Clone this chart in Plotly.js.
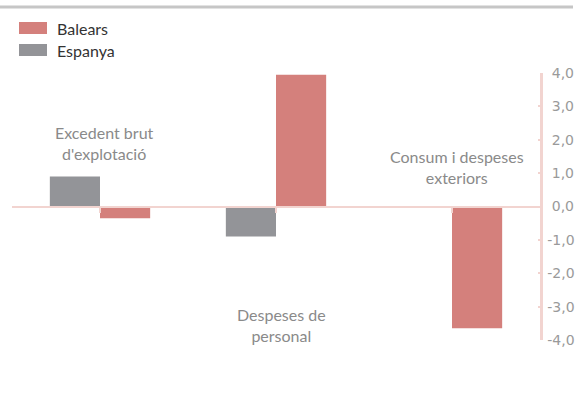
<!DOCTYPE html>
<html>
<head>
<meta charset="utf-8">
<script src="https://cdn.plot.ly/plotly-3.0.1.min.js"></script>
<style>
  html, body { margin: 0; padding: 0; background: #fff; }
  #chart { width: 580px; height: 394px; }
</style>
</head>
<body>
<div id="chart"></div>
<script>
const categories = ["Excedent brut<br>d'explotació", "Despeses de<br>personal", "Consum i despeses<br>exteriors"];
const seriesNames = ["Espanya", "Balears"];
const espanyaValues = [0.9, -0.9, 0.0];
const balearsValues = [-0.35, 3.95, -3.65];
const yTicks = [-4, -3, -2, -1, 0, 1, 2, 3, 4];

// where each category label sits (data y) and a small horizontal nudge
const labelY = [1.9, -3.55, 1.18];
const labelShift = [4, 5, 5];

const colors = {Espanya: "#939498", Balears: "#d4807c"};
const pink = "#f2d4d0";
const gillish = "Lato, 'Open Sans', sans-serif";

document.addEventListener("DOMContentLoaded", () => {
    const values = {Espanya: espanyaValues, Balears: balearsValues};
    const xs = categories.map((c, i) => i);

    const traces = seriesNames.map(name => ({
        x: xs,
        y: values[name],
        name: name,
        type: "bar",
        marker: {color: colors[name]},
        hoverinfo: "y+name",
    }));

    const annotations = categories.map((c, i) => ({
        x: i, y: labelY[i], xref: "x", yref: "y",
        text: c, showarrow: false, xshift: labelShift[i],
        xanchor: "center", yanchor: "middle", align: "center",
        font: {family: gillish, size: 16, color: "#8a8a8a"},
    }));

    // custom legend: wide swatches like the original
    const legendOrder = ["Balears", "Espanya"];
    const shapes = [{
        type: "line", xref: "paper", yref: "paper",
        x0: -12 / 528, x1: 561 / 528, y0: 1 + 66 / 267, y1: 1 + 66 / 267,
        line: {color: "#c6c6c6", width: 3},
    }];
    legendOrder.forEach((name, k) => {
        const top = 22 + k * 22;
        shapes.push({
            type: "rect", xref: "paper", yref: "paper",
            x0: 7 / 528, x1: 35 / 528,
            y0: 1 + (73 - top - 12) / 267, y1: 1 + (73 - top) / 267,
            fillcolor: colors[name], line: {width: 0},
        });
        annotations.push({
            xref: "paper", yref: "paper", x: 43 / 528, y: 1 + (73 - top - 6) / 267,
            text: name, showarrow: false, xanchor: "left", yanchor: "middle",
            font: {family: gillish, size: 16, color: "#333"},
        });
    });

    // right-align the labels: pad non-negative ones with a punctuation space
    const tickText = yTicks.map(v => (v < 0 ? "-" : "\u2008") + Math.abs(v).toFixed(1).replace(".", ","));

    const layout = {
        width: 580, height: 394,
        margin: {l: 12, r: 40, t: 73, b: 54},
        paper_bgcolor: "#fff", plot_bgcolor: "#fff",
        showlegend: false,
        barmode: "group", bargap: 0.43, bargroupgap: 0,
        xaxis: {
            range: [-0.5, 2.5], tickvals: xs, showticklabels: false,
            anchor: "free", position: 0.5,
            showline: true, linecolor: pink, linewidth: 2.5,
            ticks: "outside", tickson: "boundaries", ticklen: 5, tickwidth: 2, tickcolor: pink,
            showgrid: false, zeroline: false, fixedrange: true,
        },
        yaxis: {
            range: [-4, 4], side: "right", tickvals: yTicks, ticktext: tickText,
            showline: true, linecolor: pink, linewidth: 2.5,
            ticks: "inside", ticklen: 2, tickwidth: 2, tickcolor: pink,
            ticklabelstandoff: 2,
            tickfont: {family: "'DejaVu Sans', sans-serif", size: 14, color: "#9a9a9a"},
            showgrid: false, zeroline: false, fixedrange: true,
        },
        annotations: annotations,
        shapes: shapes,
    };

    Plotly.newPlot("chart", traces, layout, {displayModeBar: false, staticPlot: true});
});
</script>
</body>
</html>
